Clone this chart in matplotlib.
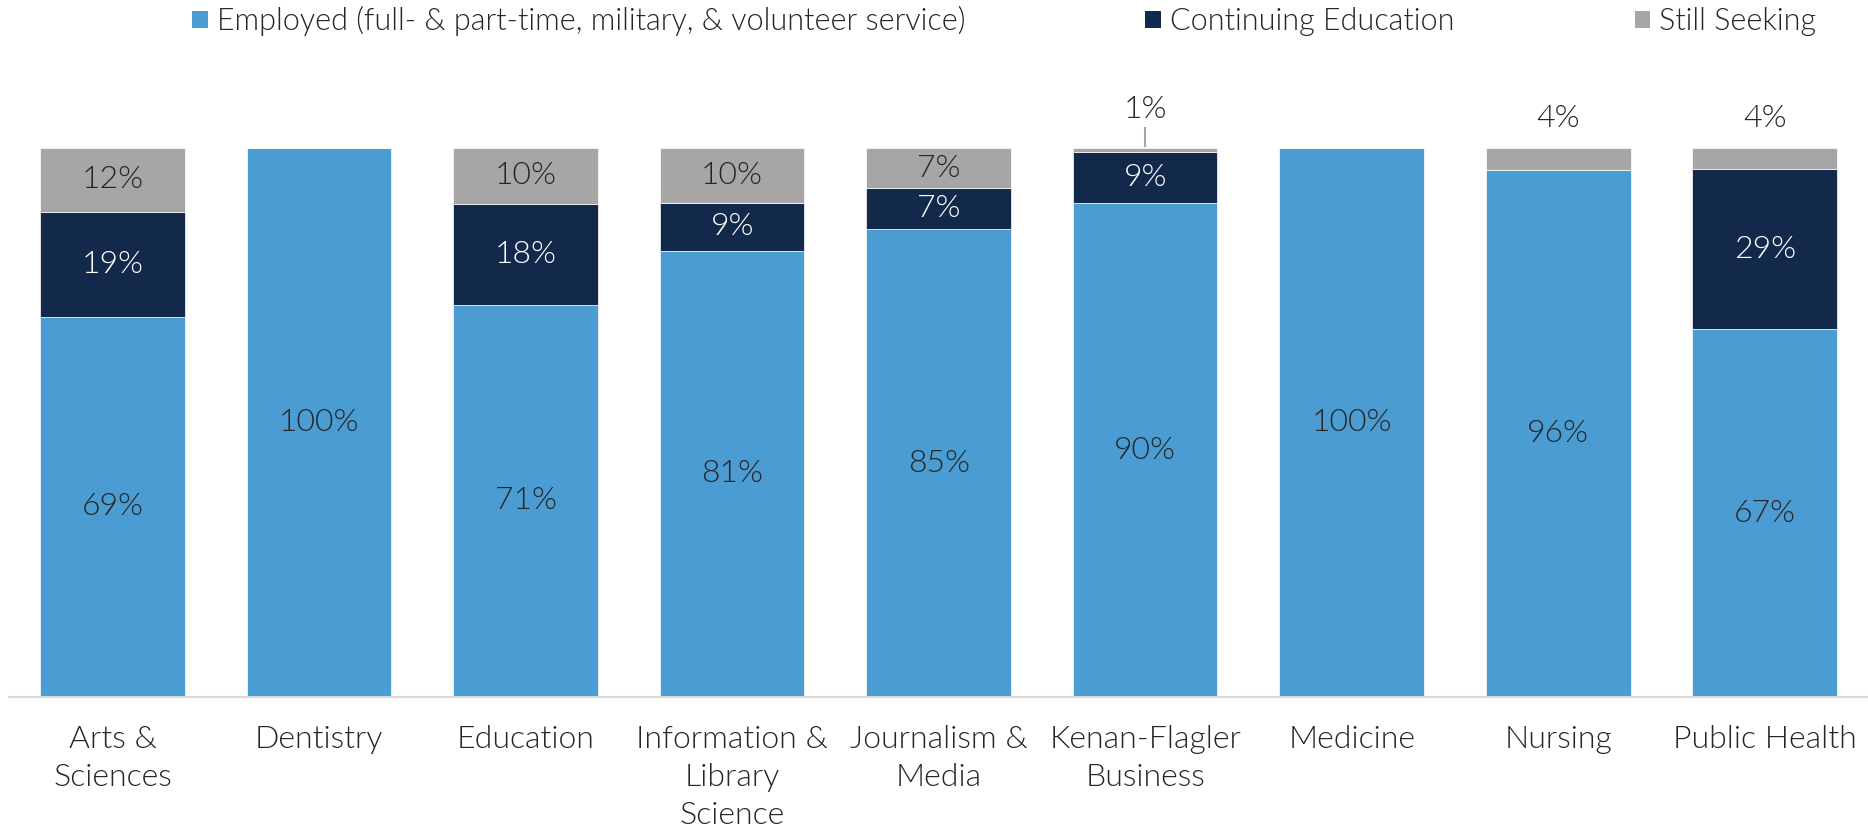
import numpy as np
import matplotlib.pyplot as plt
from matplotlib.patches import Patch

plt.rcParams['font.family'] = ['Lato', 'DejaVu Sans']
plt.rcParams['font.weight'] = 300

schools = ['Arts &\nSciences', 'Dentistry', 'Education', 'Information &\nLibrary\nScience',
           'Journalism &\nMedia', 'Kenan-Flagler\nBusiness', 'Medicine', 'Nursing', 'Public Health']
employed = [69.2, 100, 71.4, 81.3, 85.2, 89.9, 100, 95.9, 67.0]
continuing = [19.1, 0, 18.4, 8.7, 7.4, 9.4, 0, 0, 29.1]
seeking = [11.7, 0, 10.2, 10.0, 7.4, 0.7, 0, 4.1, 3.9]

legend_labels = ['Employed (full- & part-time, military, & volunteer service)',
                 'Continuing Education', 'Still Seeking']
colors = ['#4B9CD3', '#13294B', '#A6A6A6']
txt = '#262626'
fs = 23

fig = plt.figure(figsize=(18.68, 8.32), dpi=100)
ax = fig.add_axes([0.005, 0.1623, 0.995, 0.660])

x = np.arange(len(schools))
emp = np.array(employed)
con = np.array(continuing)
see = np.array(seeking)

ax.bar(x, emp, 0.7, color=colors[0], edgecolor='white', linewidth=0.5)
ax.bar(x, con, 0.7, bottom=emp, color=colors[1], edgecolor='white', linewidth=0.5)
ax.bar(x, see, 0.7, bottom=emp + con, color=colors[2], edgecolor='white', linewidth=0.5)

for i in x:
    ax.text(i, emp[i] / 2, '{:.0f}%'.format(emp[i]), ha='center', va='center',
            color=txt, fontsize=fs)
    if con[i] > 0:
        ax.text(i, emp[i] + con[i] / 2, '{:.0f}%'.format(con[i]), ha='center', va='center',
                color='white', fontsize=fs)
    if see[i] > 0:
        top = emp[i] + con[i] + see[i]
        if see[i] >= 6:
            ax.text(i, top - see[i] / 2, '{:.0f}%'.format(see[i]), ha='center', va='center',
                    color=txt, fontsize=fs)
        elif see[i] < 2:
            # small segment: label above with a short leader line
            ax.plot([i, i], [top + 0.3, top + 3.6], color='#A6A6A6', lw=1.5, clip_on=False)
            ax.text(i, top + 7.0, '{:.0f}%'.format(see[i]), ha='center', va='center',
                    color=txt, fontsize=fs, clip_on=False)
        else:
            ax.text(i, top + 2.7, '{:.0f}%'.format(see[i]), ha='center', va='bottom',
                    color=txt, fontsize=fs, clip_on=False)

ax.set_xlim(-0.5, len(schools) - 0.5)
ax.set_ylim(0, 100)
ax.set_xticks(x)
ax.set_xticklabels(schools, fontsize=fs, color=txt, linespacing=1.4)
ax.tick_params(axis='x', length=0, pad=20)
ax.set_yticks([])
for s in ['top', 'right', 'left']:
    ax.spines[s].set_visible(False)
ax.spines['bottom'].set_color('#D9D9D9')
ax.spines['bottom'].set_linewidth(1.5)

handles = [Patch(facecolor=c) for c in colors]
leg = fig.legend(handles, legend_labels, loc='center', bbox_to_anchor=(0.5376, 1 - 21 / 832),
                 ncol=3, frameon=False, fontsize=22, handlelength=0.5, handleheight=0.5,
                 handletextpad=0.3, columnspacing=5.9)
for t in leg.get_texts():
    t.set_color(txt)

fig.savefig('out.png', dpi=100)
